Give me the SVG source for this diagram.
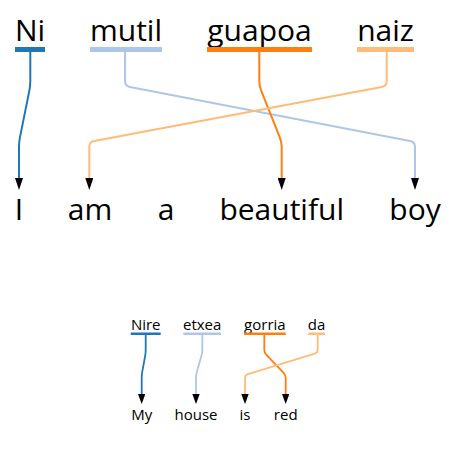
<svg xmlns="http://www.w3.org/2000/svg" width="457" height="463" viewBox="0 0 457 463">
<style>
text{font-family:"Open Sans","Noto Sans",sans-serif;fill:#000;text-anchor:middle}
.big{font-size:30px}
.sm{font-size:15px}
.c{fill:none;stroke-width:2}
.cs{fill:none;stroke-width:1.8}
.b1{fill:#1f77b4}.b2{fill:#aec7e8}.b3{fill:#ff7f0e}.b4{fill:#ffbb78}
.s1{stroke:#1f77b4}.s2{stroke:#aec7e8}.s3{stroke:#ff7f0e}.s4{stroke:#ffbb78}
</style>
<defs>
<marker id="ah" viewBox="0 0 12 8" markerWidth="12" markerHeight="8" refX="0" refY="4" orient="auto" markerUnits="userSpaceOnUse"><path d="M0,0 L12,4 L0,8 Z" fill="#000"/></marker>
<marker id="ahs" viewBox="0 0 10 7.4" markerWidth="10" markerHeight="7.4" refX="0" refY="3.7" orient="auto" markerUnits="userSpaceOnUse"><path d="M0,0 L10,3.7 L0,7.4 Z" fill="#000"/></marker>
</defs>
<g id="connectors">
<path class="c s1" marker-end="url(#ah)" d="M30.3,52 V81 Q30.3,86 29.3,90.9 L20,137.1 Q19,142 19,147 V178"/>
<path class="c s2" marker-end="url(#ah)" d="M125,52 V81 Q125,86 129.9,86.95 L410.1,141.05 Q415,142 415,147 V178"/>
<path class="c s3" marker-end="url(#ah)" d="M259.3,52 V81 Q259.3,86 261.2,90.6 L279.8,137.4 Q281.7,142 281.7,147 V178"/>
<path class="c s4" marker-end="url(#ah)" d="M386.7,52 V81 Q386.7,86 381.8,86.9 L94.2,141.1 Q89.3,142 89.3,147 V178"/>
<path class="cs s1" marker-end="url(#ahs)" d="M145.7,335 V349.7 Q145.7,352.7 145.2,355.65 L142.2,372.05 Q141.7,375 141.7,378 V394"/>
<path class="cs s2" marker-end="url(#ahs)" d="M202.3,335 V349.7 Q202.3,352.7 201.5,355.6 L196.8,372.1 Q196,375 196,378 V394"/>
<path class="cs s3" marker-end="url(#ahs)" d="M264.3,335 V349.7 Q264.3,352.7 266.4,354.9 L283.6,372.8 Q285.7,375 285.7,378 V394"/>
<path class="cs s4" marker-end="url(#ahs)" d="M317.7,335 V349.7 Q317.7,352.7 314.8,353.6 L247.9,374.1 Q245,375 245,378 V394"/>
</g>
<g id="src-Ni"><text class="big" x="30" y="41">Ni</text><rect class="b1" x="15" y="47" width="30" height="5"/></g>
<g id="src-mutil"><text class="big" x="126" y="41">mutil</text><rect class="b2" x="90" y="47" width="72" height="5"/></g>
<g id="src-guapoa"><text class="big" x="259.5" y="41">guapoa</text><rect class="b3" x="207" y="47" width="105" height="5"/></g>
<g id="src-naiz"><text class="big" x="385.5" y="41">naiz</text><rect class="b4" x="357" y="47" width="57" height="5"/></g>
<g id="tgt-I"><text class="big" x="19" y="220">I</text></g>
<g id="tgt-am"><text class="big" x="90" y="220">am</text></g>
<g id="tgt-a"><text class="big" x="166" y="220">a</text></g>
<g id="tgt-beautiful"><text class="big" x="281.7" y="220">beautiful</text></g>
<g id="tgt-boy"><text class="big" x="415" y="220">boy</text></g>
<g id="src-Nire"><text class="sm" x="145.7" y="330">Nire</text><rect class="b1" x="130.7" y="332.5" width="30" height="2.5"/></g>
<g id="src-etxea"><text class="sm" x="202.2" y="330">etxea</text><rect class="b2" x="183.3" y="332.5" width="37.7" height="2.5"/></g>
<g id="src-gorria"><text class="sm" x="264.9" y="330">gorria</text><rect class="b3" x="244" y="332.5" width="41.7" height="2.5"/></g>
<g id="src-da"><text class="sm" x="316.5" y="330">da</text><rect class="b4" x="308.3" y="332.5" width="16.5" height="2.5"/></g>
<g id="tgt-My"><text class="sm" x="141.7" y="420">My</text></g>
<g id="tgt-house"><text class="sm" x="196" y="420">house</text></g>
<g id="tgt-is"><text class="sm" x="245" y="420">is</text></g>
<g id="tgt-red"><text class="sm" x="285.7" y="420">red</text></g>
</svg>
